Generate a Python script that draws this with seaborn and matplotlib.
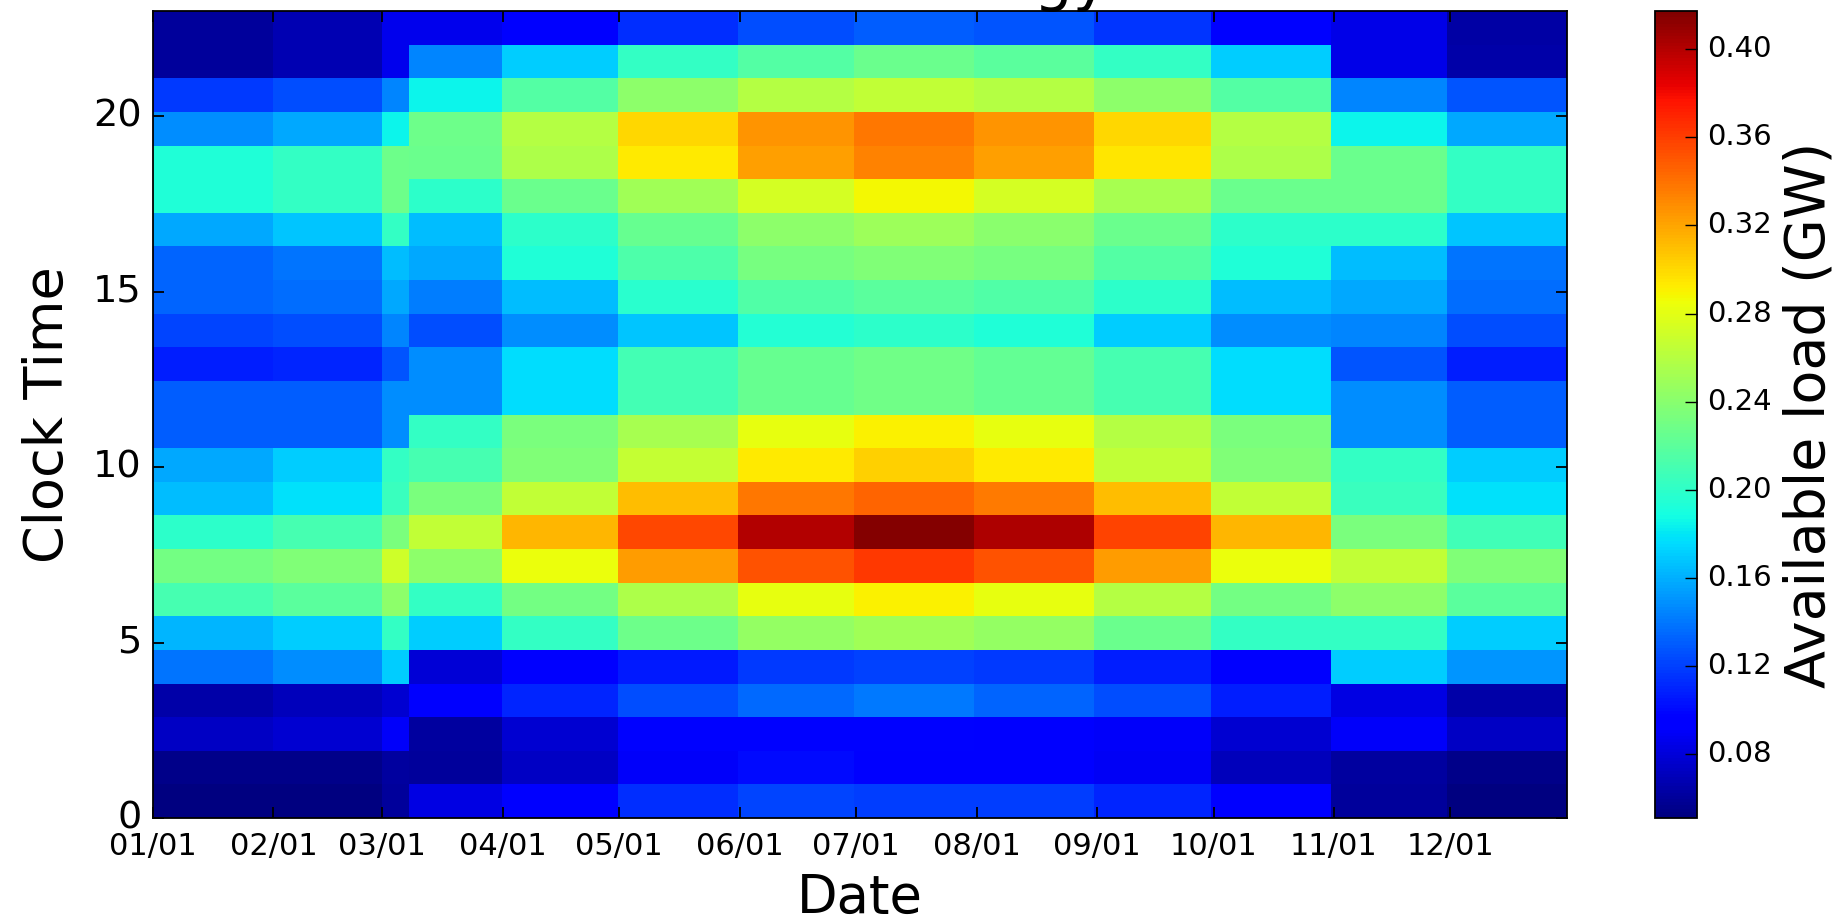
import numpy as np
import pandas as pd
import matplotlib
matplotlib.use("Agg")
import matplotlib.pyplot as plt
import seaborn as sns

# start date of each block (DST starts 03/08, ends 11/01)
period_starts = ["2015-01-01", "2015-02-01", "2015-03-01", "2015-03-08", "2015-04-01",
                 "2015-05-01", "2015-06-01", "2015-07-01", "2015-08-01", "2015-09-01",
                 "2015-10-01", "2015-11-01", "2015-12-01"]
hours = list(range(24))

# available load (GW) for clock hours 0..23
load_jan = [0.052, 0.055, 0.074, 0.065, 0.139, 0.162, 0.211, 0.231, 0.199, 0.165, 0.157, 0.131,
            0.131, 0.108, 0.122, 0.133, 0.134, 0.157, 0.193, 0.193, 0.148, 0.118, 0.060, 0.060]
load_feb = [0.052, 0.055, 0.077, 0.071, 0.148, 0.170, 0.219, 0.236, 0.211, 0.178, 0.170, 0.131,
            0.131, 0.111, 0.125, 0.136, 0.139, 0.168, 0.202, 0.202, 0.157, 0.125, 0.068, 0.068]
load_mar_std = [0.061, 0.062, 0.091, 0.077, 0.170, 0.202, 0.242, 0.270, 0.233, 0.205, 0.202, 0.148,
                0.148, 0.128, 0.145, 0.157, 0.165, 0.202, 0.228, 0.228, 0.185, 0.145, 0.086, 0.086]
load_mar = [0.083, 0.061, 0.062, 0.096, 0.079, 0.170, 0.202, 0.242, 0.265, 0.233, 0.211, 0.202,
            0.148, 0.148, 0.125, 0.142, 0.157, 0.165, 0.199, 0.226, 0.228, 0.185, 0.145, 0.086]
load_apr = [0.096, 0.074, 0.077, 0.111, 0.096, 0.202, 0.231, 0.284, 0.313, 0.265, 0.236, 0.233,
            0.176, 0.176, 0.148, 0.165, 0.193, 0.199, 0.226, 0.256, 0.259, 0.216, 0.170, 0.096]
load_may = [0.114, 0.091, 0.098, 0.125, 0.106, 0.228, 0.256, 0.324, 0.357, 0.310, 0.266, 0.254,
            0.209, 0.209, 0.168, 0.198, 0.213, 0.225, 0.251, 0.294, 0.301, 0.242, 0.202, 0.114]
load_jun = [0.122, 0.101, 0.098, 0.135, 0.117, 0.245, 0.282, 0.352, 0.401, 0.338, 0.294, 0.282,
            0.225, 0.225, 0.195, 0.215, 0.232, 0.242, 0.273, 0.322, 0.326, 0.259, 0.216, 0.125]
load_jul = [0.119, 0.096, 0.098, 0.140, 0.120, 0.251, 0.291, 0.362, 0.415, 0.345, 0.304, 0.291,
            0.229, 0.229, 0.199, 0.219, 0.237, 0.249, 0.288, 0.333, 0.338, 0.265, 0.226, 0.130]
load_aug = [0.119, 0.096, 0.096, 0.134, 0.118, 0.245, 0.282, 0.352, 0.402, 0.336, 0.294, 0.282,
            0.224, 0.224, 0.193, 0.215, 0.232, 0.241, 0.273, 0.322, 0.326, 0.259, 0.219, 0.127]
load_sep = [0.111, 0.089, 0.091, 0.125, 0.108, 0.226, 0.259, 0.324, 0.358, 0.310, 0.265, 0.259,
            0.211, 0.211, 0.170, 0.199, 0.216, 0.226, 0.253, 0.295, 0.301, 0.242, 0.202, 0.116]
load_oct = [0.096, 0.071, 0.077, 0.108, 0.096, 0.202, 0.231, 0.284, 0.313, 0.265, 0.236, 0.233,
            0.176, 0.176, 0.148, 0.165, 0.193, 0.199, 0.226, 0.256, 0.259, 0.216, 0.170, 0.098]
load_nov = [0.060, 0.062, 0.091, 0.083, 0.170, 0.202, 0.242, 0.265, 0.233, 0.205, 0.202, 0.148,
            0.148, 0.128, 0.145, 0.157, 0.165, 0.199, 0.226, 0.226, 0.185, 0.145, 0.085, 0.085]
load_dec = [0.052, 0.055, 0.074, 0.065, 0.150, 0.170, 0.219, 0.236, 0.208, 0.178, 0.170, 0.131,
            0.131, 0.108, 0.125, 0.136, 0.139, 0.168, 0.202, 0.202, 0.157, 0.128, 0.065, 0.063]

date_ticks = ["01/01", "02/01", "03/01", "04/01", "05/01", "06/01",
              "07/01", "08/01", "09/01", "10/01", "11/01", "12/01"]
hour_ticks = [0, 5, 10, 15, 20]
cbar_ticks = [0.08, 0.12, 0.16, 0.20, 0.24, 0.28, 0.32, 0.36, 0.40]

blocks = [load_jan, load_feb, load_mar_std, load_mar, load_apr, load_may, load_jun,
          load_jul, load_aug, load_sep, load_oct, load_nov, load_dec]

# spread the blocks over every day of the year
days = pd.date_range("2015-01-01", "2015-12-31", freq="D")
which = np.searchsorted(pd.to_datetime(period_starts), days, side="right") - 1
heat = pd.DataFrame(np.array(blocks)[which].T, index=hours, columns=days)

plt.style.use("classic")
W, H = 1847, 921
fig = plt.figure(figsize=(W / 100, H / 100), dpi=100, facecolor="white")
ax = fig.add_axes([153 / W, 103 / H, 1414 / W, 807 / H])
cax = fig.add_axes([1655 / W, 103 / H, 42 / W, 807 / H])

sns.heatmap(heat, cmap="jet", vmin=0.0512, vmax=0.4172, ax=ax, cbar_ax=cax,
            xticklabels=False, yticklabels=False)
ax.set_ylim(0, 24)

# imshow-like extent: 365 columns over 364 days, 24 rows over 0..23 h
ndays = len(days)
xpos = [(pd.Timestamp("2015/" + t) - days[0]).days * ndays / (ndays - 1) for t in date_ticks]
ax.set_xticks(xpos)
ax.set_xticklabels(date_ticks, rotation=0)
ax.set_yticks(np.array(hour_ticks) * 24 / 23)
ax.set_yticklabels([str(h) for h in hour_ticks], rotation=0)

for sp in ax.spines.values():
    sp.set_visible(True)
    sp.set_linewidth(1.3)
ax.tick_params(direction="in", top=True, right=True, length=8, width=1.3)
ax.tick_params(axis="x", labelsize=22, pad=10)
ax.tick_params(axis="y", labelsize=27.5, pad=8)

ax.set_xlabel("Date", fontsize=38, labelpad=8)
ax.set_ylabel("Clock Time", fontsize=39, labelpad=14)

cb = ax.collections[0].colorbar
cb.outline.set_linewidth(1.3)
cb.set_ticks(cbar_ticks)
cb.set_ticklabels([f"{t:.2f}" for t in cbar_ticks])
cax.tick_params(direction="in", left=False, right=True, length=8.5, width=1.0, labelsize=21, pad=7)
cb.set_label("Available load (GW)", fontsize=40, labelpad=8)

# title sits above the canvas, only its descenders show
fig.text(1109 / W, 1 + 1 / H, "Available Energy", ha="right", va="baseline", fontsize=44)

fig.savefig("out.png", dpi=100, facecolor="white")
